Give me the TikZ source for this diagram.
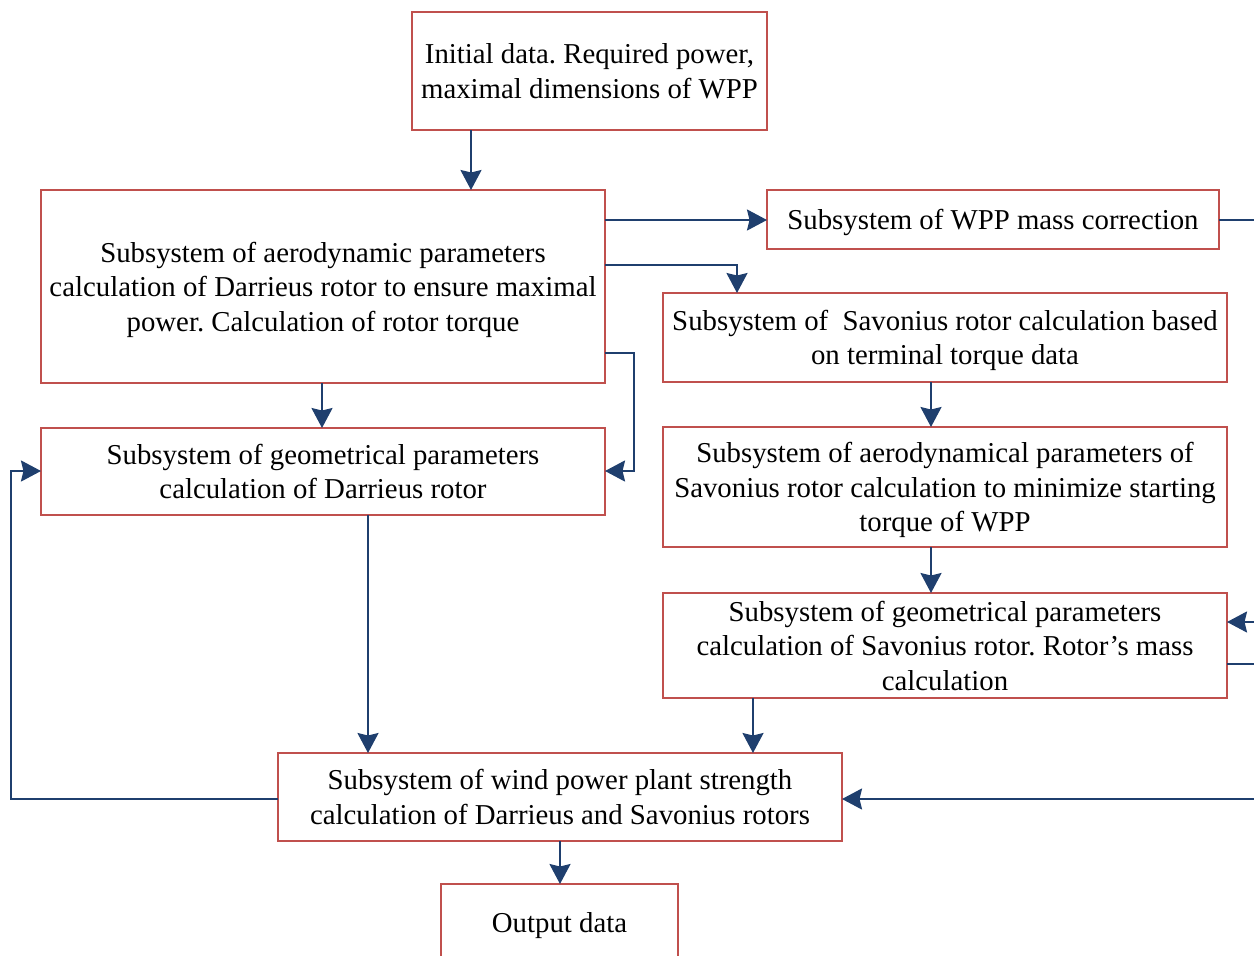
\documentclass[tikz,border=0pt]{standalone}
\usepackage{fontspec}
\setmainfont{Liberation Serif}
\usetikzlibrary{arrows.meta}
\definecolor{boxred}{HTML}{C0504D}
\definecolor{navy}{HTML}{1F3F6E}
\begin{document}
\begin{tikzpicture}[x=1pt,y=-1pt,
  box/.style={draw=boxred, line width=2pt, inner sep=0pt, outer sep=0pt, align=center,
    text depth=0pt, font=\fontsize{28.8}{34.5}\selectfont\frenchspacing},
  conn/.style={draw=navy, line width=2.2pt, -{Stealth[length=20pt,width=21pt,inset=2.5pt]}},
  line/.style={draw=navy, line width=2.2pt}]
\clip (0,0) rectangle (1254,956);
\fill[white] (0,0) rectangle (1254,956);
\node[box, minimum width=355pt, minimum height=118pt] (init) at (589.5,71)
  {Initial data. Required power,\\maximal dimensions of WPP};
\node[box, minimum width=564pt, minimum height=193pt] (aeroD) at (323,286.5)
  {Subsystem of aerodynamic parameters\\calculation of Darrieus rotor to ensure maximal\\power. Calculation of rotor torque};
\node[box, minimum width=564pt, minimum height=87pt] (geomD) at (323,471.5)
  {Subsystem of geometrical parameters\\calculation of Darrieus rotor};
\node[box, minimum width=452pt, minimum height=59pt] (mass) at (993,219.5)
  {Subsystem of WPP mass correction};
\node[box, minimum width=564pt, minimum height=89pt] (savC) at (945,337.5)
  {Subsystem of\ \ Savonius rotor calculation based\\on terminal torque data};
\node[box, minimum width=564pt, minimum height=120pt] (aeroS) at (945,487)
  {Subsystem of aerodynamical parameters of\\Savonius rotor calculation to minimize starting\\torque of WPP};
\node[box, minimum width=564pt, minimum height=105pt] (geomS) at (945,645.5)
  {Subsystem of geometrical parameters\\calculation of Savonius rotor. Rotor’s mass\\calculation};
\node[box, minimum width=564pt, minimum height=88pt] (str) at (560,797)
  {Subsystem of wind power plant strength\\calculation of Darrieus and Savonius rotors};
\node[box, minimum width=237pt, minimum height=76pt] (out) at (559.5,922)
  {Output data};
\coordinate (r1) at (1262,220);
\coordinate (r2) at (1262,622);
\coordinate (r3) at (1262,664);
\coordinate (r4) at (1262,799);
% connectors
\draw[conn] (init.south -| 471,0) -- (aeroD.north -| 471,0);
\draw[conn] (aeroD.east |- 0,220) -- (mass.west |- 0,220);
\draw[line] (mass.east |- 0,220) -- (r1);
\draw[conn] (aeroD.east |- 0,265) -| (savC.north -| 737,0);
\draw[conn] (aeroD.east |- 0,353) -- (634,353) |- (geomD.east |- 0,471);
\draw[conn] (aeroD.south -| 322,0) -- (geomD.north -| 322,0);
\draw[conn] (geomD.south -| 368,0) -- (str.north -| 368,0);
\draw[conn] (savC.south -| 931,0) -- (aeroS.north -| 931,0);
\draw[conn] (aeroS.south -| 931,0) -- (geomS.north -| 931,0);
\draw[conn] (r2) -- (geomS.east |- 0,622);
\draw[line] (geomS.east |- 0,664) -- (r3);
\draw[conn] (geomS.south -| 753,0) -- (str.north -| 753,0);
\draw[conn] (r4) -- (str.east |- 0,799);
\draw[conn] (str.west |- 0,799) -- (11,799) |- (geomD.west |- 0,471);
\draw[conn] (str.south -| 560,0) -- (out.north -| 560,0);
\end{tikzpicture}
\end{document}
